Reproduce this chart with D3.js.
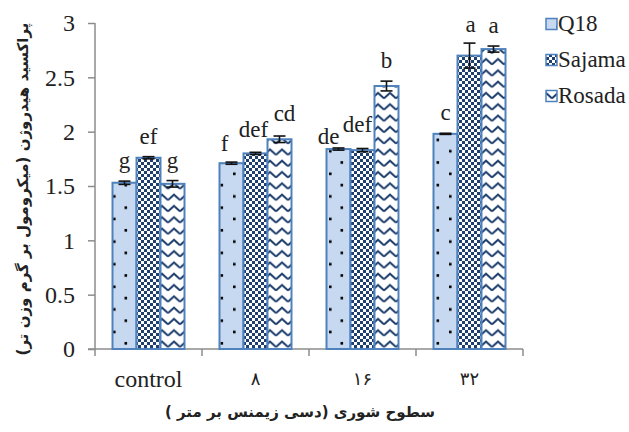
<!DOCTYPE html>
<html lang="en"><head><meta charset="utf-8">
<script src="https://cdn.jsdelivr.net/npm/d3@7"></script>
</head><body style="margin:0;background:#fff"><svg id="c" width="629" height="432"></svg>
<script>
const categories = ["control", "۸", "۱۶", "۳۲"];
const seriesNames = ["Q18", "Sajama", "Rosada"];
const q18 = [1.53, 1.71, 1.84, 1.98];
const sajama = [1.76, 1.80, 1.83, 2.70];
const rosada = [1.52, 1.93, 2.42, 2.76];
const q18Err = [0.015, 0.01, 0.01, 0.005];
const sajamaErr = [0.01, 0.01, 0.015, 0.115];
const rosadaErr = [0.03, 0.03, 0.045, 0.028];
const q18Letters = ["g", "f", "de", "c"];
const sajamaLetters = ["ef", "def", "def", "a"];
const rosadaLetters = ["g", "cd", "b", "a"];
const yTicks = [0, 0.5, 1, 1.5, 2, 2.5, 3];
const yTitle = "پراکسید هیدروژن (میکرومول بر گرم وزن تر)";
const xTitle = "سطوح شوری (دسی زیمنس بر متر )";

const seriesVals = [q18, sajama, rosada];
const seriesErr = [q18Err, sajamaErr, rosadaErr];
const seriesLetters = [q18Letters, sajamaLetters, rosadaLetters];

const svg = d3.select("#c");
const navy = "#1f3f6e", border = "#4f81bd", axisCol = "#8c8c8c", txt = "#222";
const SERIF = "serif", AR = "'DejaVu Sans'";
const font = (sel, fam, size) => sel.style("font-family", fam).style("font-size", size + "px");

// patterns
const defs = svg.append("defs");
const p0 = defs.append("pattern").attr("id", "pQ18").attr("patternUnits", "userSpaceOnUse")
  .attr("width", 24).attr("height", 22.6);
p0.append("rect").attr("width", 24).attr("height", 22.6).attr("fill", "#c6d9f0");
p0.append("rect").attr("x", 4.5).attr("y", 3).attr("width", 2.6).attr("height", 2.6).attr("fill", "#000");
p0.append("rect").attr("x", 17).attr("y", 14.3).attr("width", 2.6).attr("height", 2.6).attr("fill", "#000");

const p1 = defs.append("pattern").attr("id", "pSaj").attr("patternUnits", "userSpaceOnUse")
  .attr("width", 6).attr("height", 6);
p1.append("rect").attr("width", 6).attr("height", 6).attr("fill", navy);
p1.append("rect").attr("x", 0).attr("y", 0).attr("width", 3).attr("height", 3).attr("fill", "#fff");
p1.append("rect").attr("x", 3).attr("y", 3).attr("width", 3).attr("height", 3).attr("fill", "#fff");

const p2 = defs.append("pattern").attr("id", "pRos").attr("patternUnits", "userSpaceOnUse")
  .attr("width", 12).attr("height", 11.3);
p2.append("rect").attr("width", 12).attr("height", 11.3).attr("fill", "#fff");
p2.append("path").attr("d", "M0,8 L6,2.5 L12,8").attr("fill", "none").attr("stroke", navy).attr("stroke-width", 2);

const fills = ["url(#pQ18)", "url(#pSaj)", "url(#pRos)"];

// scales
const x = d3.scaleBand().domain(categories).range([95, 523]).padding(0);
const groupW = 72;
const xs = d3.scaleBand().domain(d3.range(seriesNames.length)).range([0, groupW]).padding(0);
const y = d3.scaleLinear().domain([0, 3]).range([349, 23]);

// axes
const yAxis = svg.append("g").attr("transform", "translate(95,0)")
  .call(d3.axisLeft(y).tickValues(yTicks).tickSize(7).tickPadding(13).tickFormat(d3.format("")));
yAxis.attr("font-family", null);
yAxis.select(".domain").remove();
yAxis.append("line").attr("x1", 0).attr("x2", 0).attr("y1", y(3)).attr("y2", y(0) + 7).attr("stroke", axisCol).attr("stroke-width", 1.5);
yAxis.selectAll(".tick line").attr("stroke", axisCol).attr("stroke-width", 1.5);
font(yAxis.selectAll(".tick text"), SERIF, 24).attr("fill", txt);

const xEdges = categories.map(c => x(c) + x.bandwidth());
svg.append("line").attr("x1", 88).attr("x2", 523).attr("y1", y(0)).attr("y2", y(0)).attr("stroke", axisCol).attr("stroke-width", 1.5);
svg.selectAll(".xt").data(xEdges).join("line").attr("class", "xt")
  .attr("x1", d => d).attr("x2", d => d).attr("y1", y(0)).attr("y2", y(0) + 7)
  .attr("stroke", axisCol).attr("stroke-width", 1.5);
categories.forEach((c, i) => {
  const t = svg.append("text").attr("x", x(c) + x.bandwidth() / 2).attr("y", i === 0 ? 387 : 385)
    .attr("text-anchor", "middle").attr("fill", txt).text(c);
  font(t, i === 0 ? SERIF : AR, i === 0 ? 24 : 18);
});

// bars
const off = (x.bandwidth() - groupW) / 2;
seriesVals.forEach((vals, si) => {
  const g = svg.append("g");
  g.selectAll("rect").data(vals).join("rect")
    .attr("x", (d, i) => x(categories[i]) + off + xs(si))
    .attr("y", d => y(d))
    .attr("width", xs.bandwidth())
    .attr("height", d => y(0) - y(d))
    .attr("fill", fills[si]).attr("stroke", border).attr("stroke-width", 2);
});
// error bars and letters (small layout nudges where the original letters were hand-placed)
const nudge = { "0-1": [-7, 2], "1-1": [-2, -2], "2-1": [5, -2], "0-2": [-10, 9], "1-2": [-5, -4], "1-3": [1, 2] };
seriesVals.forEach((vals, si) => {
  const g = svg.append("g");
  vals.forEach((v, i) => {
    const cx = x(categories[i]) + off + xs(si) + xs.bandwidth() / 2;
    const e = seriesErr[si][i];
    g.append("line").attr("x1", cx).attr("x2", cx).attr("y1", y(v + e)).attr("y2", y(v - e)).attr("stroke", "#111").attr("stroke-width", 1.6);
    [v + e, v - e].forEach(t => g.append("line").attr("x1", cx - 6).attr("x2", cx + 6).attr("y1", y(t)).attr("y2", y(t)).attr("stroke", "#111").attr("stroke-width", 1.6));
    const n = nudge[si + "-" + i] || [0, 0];
    const t = g.append("text").attr("x", cx + n[0]).attr("y", y(v + e) - 13 + n[1])
      .attr("text-anchor", "middle").attr("fill", txt).text(seriesLetters[si][i]);
    font(t, SERIF, 23);
  });
});

// legend
const leg = svg.append("g");
seriesNames.forEach((n, i) => {
  const cy = 24 + i * 36;
  leg.append("rect").attr("x", 546).attr("y", cy - 5.5).attr("width", 11).attr("height", 11)
    .attr("fill", fills[i]).attr("stroke", border).attr("stroke-width", 1.5);
  font(leg.append("text").attr("x", 558).attr("y", cy + 7).attr("fill", txt).text(n), SERIF, 23);
});

// titles
font(svg.append("text").attr("transform", "translate(28,189) rotate(-90)")
  .attr("text-anchor", "middle").attr("direction", "rtl")
  .attr("font-weight", "bold").attr("fill", txt)
  .text(yTitle), AR, 15);
font(svg.append("text").attr("x", 300).attr("y", 417)
  .attr("text-anchor", "middle").attr("direction", "rtl")
  .attr("font-weight", "bold").attr("fill", txt)
  .text(xTitle), AR, 15);
</script></body></html>
